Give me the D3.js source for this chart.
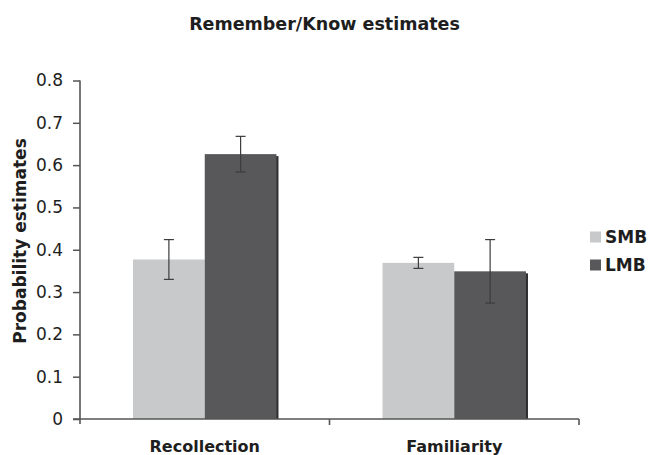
<!DOCTYPE html>
<html><head><meta charset="utf-8">
<script src="https://cdn.jsdelivr.net/npm/d3@7"></script>
<style>body{margin:0;background:#fff}svg{display:block}text{font-family:"DejaVu Sans",Verdana,sans-serif;fill:#1e1e1e}</style>
</head><body>
<svg id="c" width="649" height="455"></svg>
<script>
const categories = ["Recollection", "Familiarity"];
const seriesNames = ["SMB", "LMB"];
const smbValues = [0.377, 0.369];
const smbErrors = [0.047, 0.013];
const lmbValues = [0.626, 0.349];
const lmbErrors = [0.042, 0.075];
const yTicks = [0, 0.1, 0.2, 0.3, 0.4, 0.5, 0.6, 0.7, 0.8];
const colors = {SMB: "#c8c9cb", LMB: "#58585a"};

const svg = d3.select("#c");
const y = d3.scaleLinear().domain([0, 0.8]).range([419, 80.5]);
const x0 = d3.scaleBand().domain(categories).range([80, 579]).paddingInner(0.425).paddingOuter(0.2125);
const x1 = d3.scaleBand().domain(seriesNames).range([0, x0.bandwidth()]);
const xAxisBand = d3.scaleBand().domain(categories).range([80, 579]);

const data = seriesNames.map(s => ({
  name: s,
  vals: categories.map((c, i) => ({cat: c, v: s === "SMB" ? smbValues[i] : lmbValues[i], e: s === "SMB" ? smbErrors[i] : lmbErrors[i]}))
}));

// title
svg.append("text").attr("x", 324.5).attr("y", 30).attr("text-anchor", "middle")
  .style("font-weight", "bold").style("font-size", "17.5px").text("Remember/Know estimates");

// bars
const g = svg.append("g");
data.forEach(s => {
  s.vals.forEach(d => {
    const bx = x0(d.cat) + x1(s.name), bw = x1.bandwidth();
    if (s.name === "LMB") {
      g.append("rect").attr("x", bx + 2).attr("y", y(d.v) + 2).attr("width", bw).attr("height", y(0) - y(d.v) - 2).attr("fill", "#2e2e30");
    }
    g.append("rect").attr("x", bx).attr("y", y(d.v)).attr("width", bw).attr("height", y(0) - y(d.v)).attr("fill", colors[s.name]);
  });
});
// error bars
data.forEach(s => {
  s.vals.forEach(d => {
    const cx = x0(d.cat) + x1(s.name) + x1.bandwidth() / 2;
    const eg = g.append("g").attr("stroke", "#3c3c3c").attr("stroke-width", 1.2);
    eg.append("line").attr("x1", cx).attr("x2", cx).attr("y1", y(d.v + d.e)).attr("y2", y(d.v - d.e));
    [d.v + d.e, d.v - d.e].forEach(t => eg.append("line").attr("x1", cx - 5).attr("x2", cx + 5).attr("y1", y(t)).attr("y2", y(t)));
  });
});

// y axis
const yAxis = d3.axisLeft(y).tickValues(yTicks).tickFormat(d => d === 0 ? "0" : d3.format(".1f")(d)).tickSize(7).tickPadding(10);
const ya = svg.append("g").attr("transform", "translate(80,0)").call(yAxis);
ya.select(".domain").remove();
ya.selectAll(".tick line").attr("stroke", "#555").attr("stroke-width", 1.5);
ya.selectAll(".tick text").style("font-size", "17px").attr("fill", "#1e1e1e").style("font-family", '"DejaVu Sans",Verdana,sans-serif');
svg.append("line").attr("x1", 80).attr("x2", 80).attr("y1", 80.5).attr("y2", 424).attr("stroke", "#555").attr("stroke-width", 1.6);

// x axis
svg.append("line").attr("x1", 73).attr("x2", 579).attr("y1", 419).attr("y2", 419).attr("stroke", "#555").attr("stroke-width", 1.6);
const xa = svg.append("g").attr("transform", "translate(0,419)")
  .call(d3.axisBottom(x0).tickSize(0).tickPadding(22));
xa.select(".domain").remove();
xa.selectAll(".tick text").style("font-size", "16px").style("font-weight", "bold").attr("fill", "#1e1e1e").style("font-family", '"DejaVu Sans",Verdana,sans-serif');
[xAxisBand(categories[1]), 579].forEach(px => svg.append("line").attr("x1", px).attr("x2", px).attr("y1", 419).attr("y2", 425).attr("stroke", "#555").attr("stroke-width", 1.6));

// y title
svg.append("text").attr("transform", "translate(26,241) rotate(-90)").attr("text-anchor", "middle")
  .style("font-weight", "bold").style("font-size", "17px").text("Probability estimates");

// legend
const lg = svg.append("g").attr("transform", "translate(590,0)");
seriesNames.forEach((s, i) => {
  const cy = 237 + i * 28;
  lg.append("rect").attr("x", 0).attr("y", cy - 5.5).attr("width", 11).attr("height", 11).attr("fill", colors[s]);
  lg.append("text").attr("x", 15).attr("y", cy).attr("dy", "0.35em").style("font-weight", "bold").style("font-size", "17px").text(s);
});
</script>
</body></html>
